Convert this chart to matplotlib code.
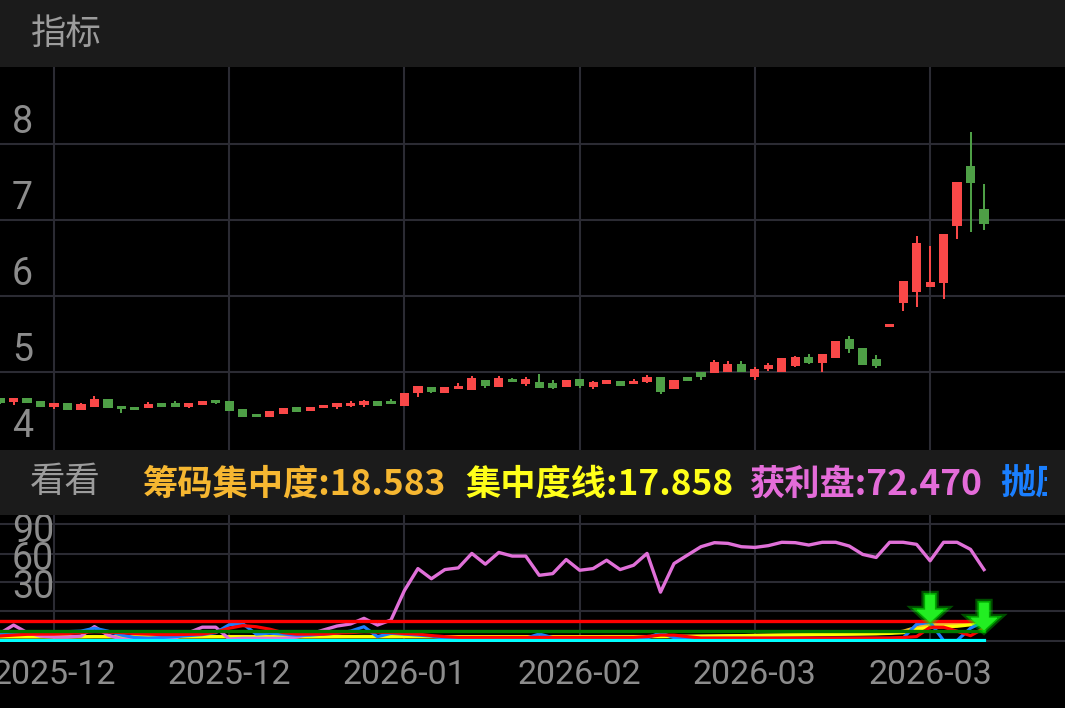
import matplotlib
matplotlib.use('Agg')
import matplotlib.pyplot as plt
import numpy as np
from matplotlib.patches import Rectangle, Polygon
from matplotlib.transforms import offset_copy, Bbox, TransformedBbox, Affine2D, ScaledTranslation, blended_transform_factory
import matplotlib.patheffects as pe

plt.rcParams['font.family'] = ['Noto Sans CJK SC', 'DejaVu Sans']

# ---------------- data ----------------
opens = [4.655, 4.600, 4.654, 4.622, 4.543, 4.588, 4.500, 4.543, 4.641, 4.543,
         4.535, 4.522, 4.588, 4.588, 4.543, 4.566, 4.632, 4.618, 4.513, 4.447,
         4.404, 4.443, 4.535, 4.483, 4.522, 4.535, 4.553, 4.570, 4.618, 4.622,
         4.553, 4.720, 4.799, 4.728, 4.780, 4.763, 4.895, 4.807, 4.908, 4.842,
         4.873, 4.860, 4.807, 4.904, 4.807, 4.842, 4.882, 4.842, 4.873, 4.938,
         4.776, 4.938, 5.004, 4.983, 5.004, 5.101, 4.938, 5.035, 5.004, 5.083,
         5.201, 5.114, 5.180, 5.430, 5.320, 5.171, 5.596, 5.912, 6.049, 6.114,
         6.167, 6.921, 7.714, 7.141]
closes = [4.590, 4.654, 4.588, 4.543, 4.588, 4.496, 4.575, 4.641, 4.522, 4.513,
          4.500, 4.579, 4.543, 4.535, 4.596, 4.618, 4.588, 4.491, 4.404, 4.404,
          4.487, 4.522, 4.470, 4.535, 4.566, 4.588, 4.596, 4.618, 4.553, 4.575,
          4.728, 4.820, 4.741, 4.807, 4.820, 4.917, 4.816, 4.925, 4.873, 4.908,
          4.786, 4.794, 4.895, 4.816, 4.864, 4.895, 4.820, 4.882, 4.938, 4.741,
          4.895, 4.882, 4.938, 5.128, 5.105, 4.996, 5.035, 5.092, 5.188, 5.201,
          5.123, 5.232, 5.412, 5.298, 5.092, 5.083, 5.636, 6.197, 6.693, 6.188,
          6.811, 7.496, 7.491, 6.943]
highs = [4.660, 4.655, 4.654, 4.622, 4.588, 4.588, 4.596, 4.684, 4.641, 4.543,
         4.535, 4.601, 4.588, 4.618, 4.596, 4.618, 4.632, 4.618, 4.513, 4.447,
         4.487, 4.522, 4.535, 4.535, 4.566, 4.588, 4.614, 4.632, 4.618, 4.649,
         4.728, 4.820, 4.799, 4.807, 4.851, 4.947, 4.895, 4.951, 4.925, 4.930,
         4.974, 4.895, 4.895, 4.904, 4.882, 4.895, 4.882, 4.904, 4.960, 4.938,
         4.895, 4.938, 5.004, 5.158, 5.145, 5.145, 5.070, 5.123, 5.188, 5.215,
         5.237, 5.232, 5.412, 5.474, 5.320, 5.220, 5.636, 6.197, 6.793, 6.662,
         6.811, 7.496, 8.162, 7.474]
lows = [4.585, 4.566, 4.588, 4.543, 4.517, 4.496, 4.500, 4.543, 4.522, 4.456,
        4.500, 4.522, 4.543, 4.535, 4.530, 4.566, 4.575, 4.491, 4.404, 4.404,
        4.404, 4.443, 4.470, 4.483, 4.522, 4.517, 4.539, 4.543, 4.553, 4.575,
        4.553, 4.675, 4.720, 4.728, 4.780, 4.763, 4.794, 4.807, 4.873, 4.820,
        4.786, 4.776, 4.807, 4.794, 4.776, 4.842, 4.820, 4.842, 4.851, 4.711,
        4.776, 4.882, 4.895, 4.983, 5.004, 4.996, 4.895, 5.013, 5.004, 5.070,
        5.105, 5.004, 5.180, 5.254, 5.092, 5.048, 5.596, 5.807, 5.859, 6.114,
        5.961, 6.746, 6.846, 6.868]

# indicator series (lower panel)
profit_ratio = [7.8, 16.2, 8.5, 5, 4, 4, 5, 14.6, 6, 2,
                1.5, 1.5, 1.5, 3, 8.5, 14, 14, 2, 2.7, 2.7,
                2.7, 2.7, 4, 7.1, 11.2, 15.2, 17.3, 23, 16.2, 21.3,
                51.3, 73.5, 63.2, 72.5, 74.2, 88.9, 78, 89.9, 86.2, 86.2,
                66.7, 68.4, 82.7, 71.8, 73.5, 82, 72.5, 76.9, 88.9, 49.6,
                78.6, 87.2, 95.7, 99.8, 99.1, 95.7, 95, 96.8, 100.2, 99.8,
                97.4, 100.2, 100.2, 96.4, 87.9, 84.8, 100.2, 100.2, 98.1, 81.4,
                100.2, 100.2, 93, 72.47]
sell_pressure = [7, 8, 8.5, 9.5, 9.5, 9.5, 10, 13, 10, 6,
                 3.5, 3, 3.5, 4.5, 5.5, 6.5, 8.5, 16.5, 17.6, 7,
                 8, 7, 6, 6, 7, 8, 10, 14.5, 4.4, 7.8,
                 7, 6, 5, 2.7, 2.7, 2.7, 2.7, 2.7, 2.7, 2.7,
                 7.1, 3.4, 2.7, 2.7, 2.7, 2.7, 2.7, 2.7, 3, 8.4,
                 3.4, 2.7, 2.7, 2.7, 2.7, 2.7, 2.7, 2.7, 2.7, 2.7,
                 2.7, 2.7, 2.7, 2.7, 2.7, 2.7, 2.7, 3, 17, 19,
                 0.5, 0.5, 13, 20]
chip_conc = [4.6, 4.6, 4.5, 4.5, 4.4, 4.4, 4.5, 4.6, 4.5, 4.4,
             4.3, 4.3, 4.2, 4.2, 4.3, 4.4, 4.5, 4.6, 4.6, 4.5,
             4.4, 4.3, 4.3, 4.3, 4.4, 4.5, 4.6, 4.7, 4.6, 4.6,
             4.5, 4.5, 4.4, 4.4, 4.4, 4.4, 4.4, 4.5, 4.5, 4.5,
             4.5, 4.5, 4.5, 4.5, 4.5, 4.6, 4.6, 4.6, 4.6, 4.8,
             4.8, 4.9, 5.0, 5.1, 5.3, 5.5, 5.7, 5.9, 6.1, 6.3,
             6.5, 6.7, 6.9, 7.1, 7.3, 7.5, 7.9, 10, 14, 17,
             17, 17.5, 18, 18.583]
conc_line = [4.2, 4.2, 4.2, 4.2, 4.2, 4.2, 4.2, 4.3, 4.3, 4.3,
             4.3, 4.3, 4.3, 4.3, 4.3, 4.3, 4.3, 4.3, 4.3, 4.3,
             4.3, 4.3, 4.3, 4.3, 4.3, 4.3, 4.3, 4.3, 4.3, 4.3,
             4.4, 4.4, 4.4, 4.4, 4.4, 4.4, 4.4, 4.4, 4.4, 4.4,
             4.4, 4.4, 4.4, 4.4, 4.4, 4.4, 4.4, 4.4, 4.4, 4.4,
             4.5, 4.6, 4.8, 5.0, 5.2, 5.4, 5.6, 5.8, 6.0, 6.2,
             6.4, 6.6, 6.8, 7.0, 7.2, 7.4, 7.8, 8.5, 12, 14,
             14.5, 15, 16.5, 17.858]
red_line = [5.1, 6, 6.8, 7, 7, 7.5, 8.5, 9.5, 9, 8.5,
            7.5, 7, 6.5, 6.5, 6.8, 7, 9, 13, 15.6, 14.5,
            12, 8.5, 7, 7, 7, 8, 8.5, 9.4, 9, 8.5,
            7.5, 7, 5.5, 4.4, 3.7, 3.7, 3.7, 3.7, 3.7, 3.7,
            3.7, 3.7, 3.7, 3.7, 3.7, 3.7, 3.7, 3.7, 4.5, 6,
            6, 4.4, 3, 3, 3, 3, 3, 3, 3, 3,
            3, 3, 3, 3, 3, 3, 3, 3.5, 4.5, 14,
            14, 10, 5.4, 12.9]
upper_level = 20
lower_level = 10
base_level = 0
signal_k = [69, 73]
signal_v = [19.3, 11.2]

price_labels = [8, 7, 6, 5, 4]
price_grid = [5, 6, 7, 8]
ind_labels = ['90', '60', '30']
ind_grid = [0, 30, 60, 88.5, 119]
date_k = [4, 17, 30, 43, 56, 69]
date_labels = ['2025-12', '2025-12', '2026-01', '2026-02', '2026-03', '2026-03']

title_top = '指标'
title_bottom = '看看'
legend_items = [('筹码集中度:18.583', '#f6b731'),
                ('集中度线:17.858', '#ffff1a'),
                ('获利盘:72.470', '#e46cd9'),
                ('抛压', '#1a7fff')]
legend_x = [142, 465, 750, 1000]

# ---------------- style ----------------
W, H = 1065, 708
BAR_BG = '#1b1b1b'
GRID = '#2b2b33'
LABEL = '#8c8c8c'
RED = '#f94848'
GREEN = '#4e9f46'

fig = plt.figure(figsize=(W / 100, H / 100), dpi=100, facecolor='black')


def fy(px):
    return 1 - px / H


fig.patches.append(Rectangle((0, fy(67)), 1, 67 / H, transform=fig.transFigure,
                             facecolor=BAR_BG, edgecolor='none', zorder=0))
fig.patches.append(Rectangle((0, fy(515)), 1, 65 / H, transform=fig.transFigure,
                             facecolor=BAR_BG, edgecolor='none', zorder=0))

xlim = (-0.0074, 79.01)

# ---------------- main candle axes ----------------
ax = fig.add_axes([0, fy(450), 1, 383 / H])
ax.set_facecolor('black')
ax.set_xlim(*xlim)
ax.set_ylim(3.974, 9.013)
ax.set_xticks(date_k)
ax.set_yticks(price_grid)
ax.grid(True, color=GRID, lw=1.5)
ax.tick_params(length=0, labelleft=False, labelbottom=False)
for s in ax.spines.values():
    s.set_visible(False)

x = np.arange(len(opens))
o = np.array(opens); c = np.array(closes)
hi = np.array(highs); lo = np.array(lows)
cols = np.where(c >= o, RED, GREEN)
ax.vlines(x, lo, hi, colors=cols, lw=1.45, zorder=3)
ax.bar(x, np.maximum(np.abs(c - o), 0.035), bottom=np.minimum(o, c), width=0.68,
       color=cols, lw=0, zorder=4)

lab_tr = offset_copy(ax.get_yaxis_transform(), fig=fig, x=12, y=11, units='dots')
for v in price_labels:
    ax.text(0, v, str(v), transform=lab_tr, ha='left', va='baseline',
            fontsize=27, family='Roboto', color=LABEL, zorder=5)

# ---------------- indicator axes ----------------
ax2 = fig.add_axes([0, fy(642), 1, 127 / H])
ax2.set_facecolor('black')
ax2.set_xlim(*xlim)
ax2.set_ylim(-1.015, 127.9)
ax2.set_xticks(date_k)
ax2.set_yticks(ind_grid)
ax2.grid(True, color=GRID, lw=1.5)
ax2.tick_params(length=0, labelleft=False, labelbottom=False)
for s in ax2.spines.values():
    s.set_visible(False)

n = len(profit_ratio)
xi = np.arange(n)
ax2.plot(xi, chip_conc, color='#f6b731', lw=2.2, zorder=3)
ax2.plot(xi, conc_line, color='#ffff00', lw=2.4, zorder=3.1)
ax2.plot(xi, profit_ratio, color='#e070d8', lw=2.4, zorder=3.2)
ax2.plot(xi, sell_pressure, color='#1a7fff', lw=2.3, zorder=3.3)
ax2.plot(xi, red_line, color='#ff0000', lw=2.3, zorder=3.4)
ax2.plot(xi, [upper_level] * n, color='#ff0000', lw=2.4, zorder=3.5)
ax2.plot(xi, [lower_level] * n, color='#007a00', lw=2.4, zorder=3.6)
ax2.plot(xi, [base_level] * n, color='#00ffff', lw=3.0, zorder=3.7)

arrow_px = [(0, 0), (13, 12), (4.5, 12), (4.5, 27), (-4.5, 27), (-4.5, 12), (-13, 12)]
for k, v in zip(signal_k, signal_v):
    tr = Affine2D() + ScaledTranslation(k, v, ax2.transData)
    poly = Polygon(arrow_px, closed=True, transform=tr, facecolor='#22ee22',
                   edgecolor='#22ee22', lw=0.5, zorder=6, clip_on=False,
                   path_effects=[pe.Stroke(linewidth=6, foreground='#00ff00', alpha=0.3),
                                 pe.Stroke(linewidth=3, foreground='#00ff00', alpha=0.5),
                                 pe.Normal()])
    ax2.add_patch(poly)

for lab, yb in zip(ind_labels, [0.787, 0.567, 0.346]):
    ax2.text(12 / W, yb, lab, transform=ax2.transAxes, ha='left', va='baseline',
             fontsize=27, family='Roboto', color=LABEL, zorder=7)

dtr = blended_transform_factory(ax2.transData, ax2.transAxes)
for k, lab in zip(date_k, date_labels):
    ax2.text(k, -0.331, lab, transform=dtr, ha='center', va='baseline',
             fontsize=24.5, family='Roboto', color=LABEL, clip_on=False)

# ---------------- header texts ----------------
fig.text(31 / W, fy(34), title_top, ha='left', va='center', fontsize=25.5, color='#9c9c9c')
fig.text(30 / W, fy(482), title_bottom, ha='left', va='center', fontsize=25.5, color='#9c9c9c')
clip = TransformedBbox(Bbox([[0, 0], [1047 / W, 1]]), fig.transFigure)
for (txt, col), xp in zip(legend_items, legend_x):
    t = fig.text(xp / W, fy(495), txt, ha='left', va='baseline', fontsize=25.4,
                 fontweight='bold', color=col)
    t.set_clip_box(clip)
    t.set_clip_on(True)

fig.savefig('out.png', dpi=100, facecolor='black')
